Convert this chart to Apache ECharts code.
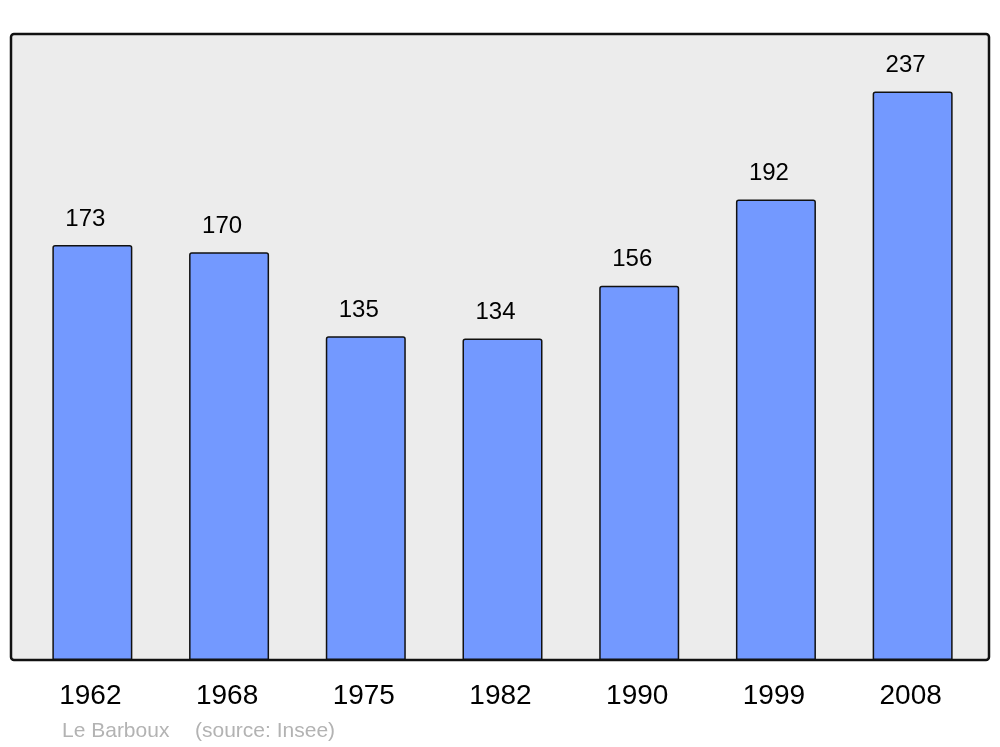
<!DOCTYPE html>
<html>
<head>
<meta charset="utf-8">
<script src="https://cdn.jsdelivr.net/npm/echarts@6/dist/echarts.min.js"></script>
<style>html,body{margin:0;padding:0;background:#fff}#c{width:1000px;height:747px}</style>
</head>
<body>
<div id="c"></div>
<script>
var years = ['1962','1968','1975','1982','1990','1999','2008'];
var population = [173,170,135,134,156,192,237];
var sourceAuthor = 'Le Barboux';
var sourceText = '(source: Insee)';

var FONT = 'Liberation Sans, Arial, sans-serif';
var chart = echarts.init(document.getElementById('c'));
chart.setOption({
  animation: false,
  backgroundColor: '#ffffff',
  textStyle: {fontFamily: FONT},
  graphic: [{
    type: 'rect', z: -10, silent: true,
    shape: {x: 11, y: 34, width: 978, height: 626, r: 3},
    style: {fill: '#ececec', stroke: '#111111', lineWidth: 2.5}
  }],
  title: [{
    text: sourceAuthor, left: 62, top: 721, padding: 0,
    textStyle: {color: '#b3b3b3', fontSize: 21, fontWeight: 'normal', fontFamily: FONT}
  }, {
    text: sourceText, left: 195, top: 721, padding: 0,
    textStyle: {color: '#b3b3b3', fontSize: 21, fontWeight: 'normal', fontFamily: FONT}
  }],
  grid: {left: 24, right: 19, top: 34, bottom: 87, containLabel: false},
  xAxis: {
    type: 'category', data: years,
    axisLine: {show: false}, axisTick: {show: false},
    axisLabel: {color: '#000', fontSize: 28, margin: 22, padding: [0, 4, 0, 0], fontFamily: FONT}
  },
  yAxis: {
    type: 'value', min: 0, max: 261,
    show: false, splitLine: {show: false}
  },
  series: [{
    type: 'bar', data: population, barWidth: 80, z: 5,
    itemStyle: {color: '#7399ff', borderColor: '#111111', borderWidth: 1.5, borderRadius: [2,2,0,0]},
    label: {show: true, position: 'top', distance: 14, offset: [-7, 0], color: '#000', fontSize: 24, fontFamily: FONT}
  }]
});
</script>
</body>
</html>
